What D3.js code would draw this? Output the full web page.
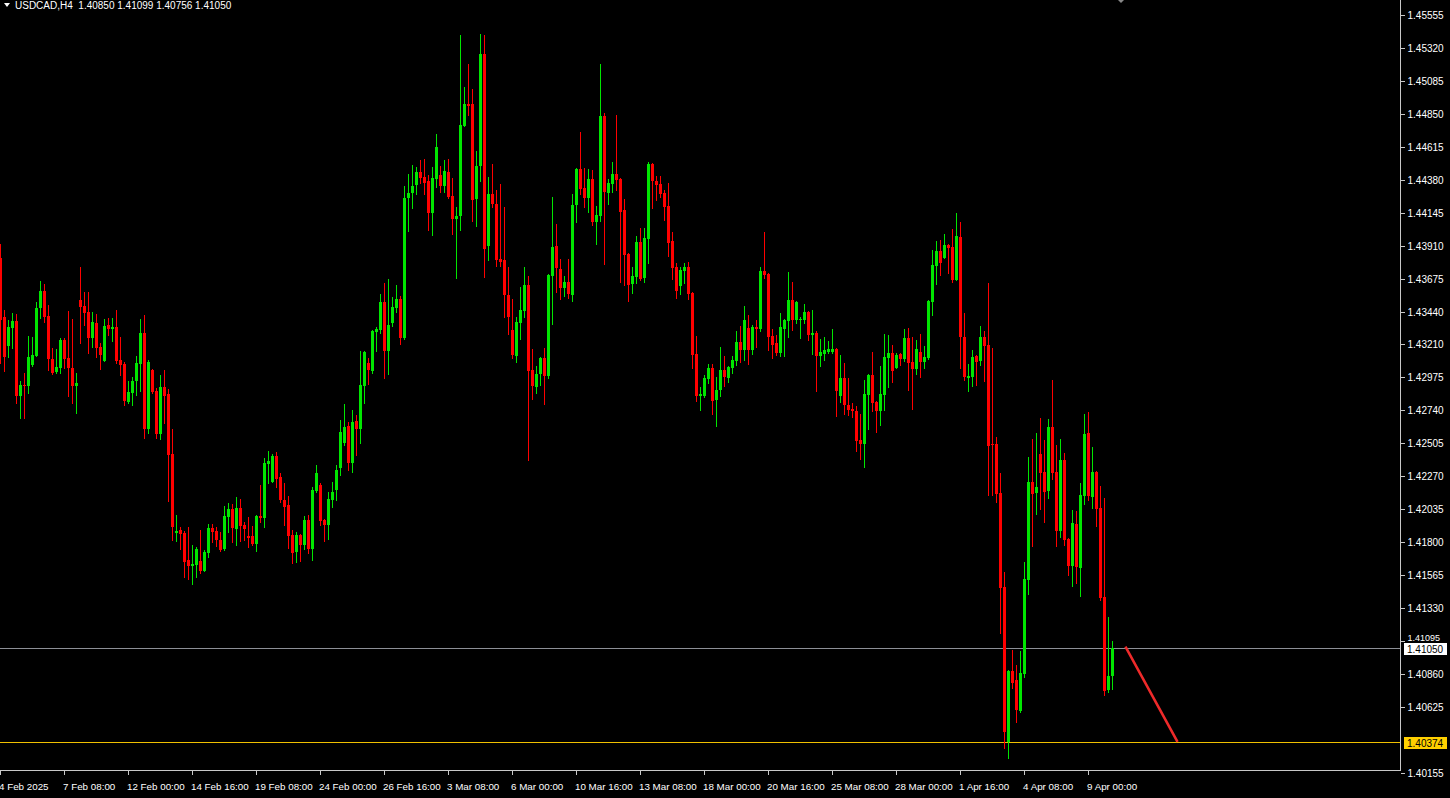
<!DOCTYPE html>
<html><head><meta charset="utf-8">
<script src="https://cdn.jsdelivr.net/npm/d3@7"></script>
<style>html,body{margin:0;padding:0;background:#000;overflow:hidden}</style>
</head><body><svg id="c" width="1450" height="798"></svg>
<script>
const opens=[1.43825,1.43405,1.43198,1.43327,1.43376,1.42842,1.42921,1.42914,1.43063,1.43127,
1.43469,1.43590,1.43412,1.43106,1.43013,1.43042,1.43241,1.43113,1.43042,1.42914,
1.43526,1.43483,1.43441,1.43255,1.43362,1.43191,1.43092,1.43348,1.43320,1.43334,
1.43099,1.43070,1.42800,1.42864,1.42949,1.43070,1.43291,1.42608,1.43028,1.42878,
1.42572,1.42907,1.42857,1.42430,1.41867,1.41888,1.41867,1.41675,1.41632,1.41639,
1.41668,1.41596,1.41725,1.41903,1.41881,1.41817,1.41753,1.41981,1.42038,1.41896,
1.42045,1.41924,1.41846,1.41846,1.41789,1.41988,1.41974,1.42358,1.42230,1.42415,
1.42266,1.42102,1.42066,1.41853,1.41732,1.41853,1.41782,1.41960,1.41753,1.42166,
1.42209,1.41960,1.41924,1.42102,1.42173,1.42330,1.42508,1.42629,1.42365,1.42664,
1.42608,1.42914,1.43077,1.43020,1.43298,1.43312,1.43512,1.43163,1.43362,1.43469,
1.43533,1.43255,1.44252,1.44288,1.44345,1.44437,1.44402,1.44373,1.44145,1.44388,
1.44416,1.44338,1.44437,1.44266,1.44103,1.44124,1.44765,1.44922,1.44922,1.44245,
1.44480,1.45278,1.43910,1.44281,1.44210,1.43818,1.43811,1.43562,1.43312,1.43127,
1.43362,1.43448,1.43633,1.43028,1.42907,1.42999,1.43113,1.42985,1.43697,1.43910,
1.43747,1.43611,1.43654,1.43562,1.44202,1.44459,1.44323,1.44252,1.44388,1.44081,
1.44124,1.44836,1.44288,1.44352,1.44423,1.44388,1.44167,1.43853,1.43640,1.43690,
1.43939,1.43683,1.43960,1.44494,1.44373,1.44352,1.44288,1.44195,1.43946,1.43761,
1.43626,1.43732,1.43761,1.43576,1.43142,1.42842,1.42842,1.42964,1.43042,1.42814,
1.42885,1.43028,1.42971,1.43042,1.43092,1.43227,1.43170,1.43327,1.43170,1.43334,
1.43320,1.43732,1.43711,1.43270,1.43220,1.43149,1.43320,1.43376,1.43526,1.43384,
1.43384,1.43384,1.43441,1.43277,1.43291,1.43127,1.43142,1.43156,1.43156,1.43177,
1.42842,1.42971,1.42778,1.42750,1.42736,1.42529,1.42501,1.42850,1.42992,1.42800,
1.42736,1.42850,1.43113,1.43149,1.43042,1.43142,1.43106,1.43255,1.43085,1.43035,
1.43156,1.43085,1.43113,1.43512,1.43768,1.43875,1.43825,1.43918,1.43903,1.43668,
1.43975,1.43263,1.42971,1.42978,1.43127,1.43092,1.43263,1.43206,1.42501,1.42501,
1.42152,1.41482,1.40379,1.40885,1.40820,1.40600,1.40863,1.41532,1.42230,1.42152,
1.42430,1.42301,1.42166,1.42622,1.42301,1.41881,1.42387,1.41824,1.41632,1.41931,
1.41618,1.42131,1.42579,1.42123,1.42301,1.42045,1.41411,1.40749,1.40850];
const highs=[1.43925,1.43455,1.43384,1.43433,1.43426,1.42949,1.43006,1.43270,1.43263,1.43512,
1.43661,1.43640,1.43490,1.43184,1.43177,1.43255,1.43255,1.43448,1.43391,1.43006,
1.43761,1.43583,1.43583,1.43441,1.43426,1.43220,1.43391,1.43398,1.43398,1.43455,
1.43263,1.43085,1.42949,1.42978,1.43127,1.43391,1.43419,1.43099,1.43035,1.42899,
1.42992,1.43028,1.42892,1.42608,1.41995,1.41910,1.41881,1.41910,1.41782,1.41767,
1.41888,1.41746,1.41931,1.41931,1.41910,1.41874,1.42059,1.42081,1.42074,1.42123,
1.42109,1.41945,1.41981,1.41917,1.41995,1.42209,1.42401,1.42451,1.42430,1.42444,
1.42294,1.42223,1.42130,1.41888,1.41874,1.41860,1.41988,1.41995,1.42195,1.42351,
1.42223,1.41967,1.42159,1.42230,1.42351,1.42672,1.42786,1.42657,1.42743,1.42707,
1.43163,1.43163,1.43113,1.43312,1.43334,1.43569,1.43647,1.43676,1.43547,1.43633,
1.43554,1.44338,1.44423,1.44487,1.44473,1.44523,1.44530,1.44416,1.44473,1.44708,
1.44480,1.44523,1.44530,1.44395,1.44188,1.45413,1.45043,1.45206,1.45028,1.44587,
1.45420,1.45413,1.44402,1.44494,1.44309,1.44352,1.44188,1.43761,1.43533,1.43405,
1.43619,1.43761,1.43697,1.43177,1.43056,1.43120,1.43184,1.43711,1.44259,1.44067,
1.43818,1.43697,1.43818,1.44281,1.44466,1.44722,1.44466,1.44459,1.44452,1.44195,
1.45206,1.44857,1.44388,1.44509,1.44843,1.44395,1.44245,1.43861,1.43761,1.43982,
1.44039,1.44039,1.44509,1.44501,1.44409,1.44409,1.44309,1.44359,1.44010,1.43789,
1.43761,1.43789,1.43797,1.43583,1.43270,1.42907,1.42992,1.43070,1.43070,1.42978,
1.43191,1.43127,1.43056,1.43127,1.43305,1.43341,1.43483,1.43419,1.43348,1.43384,
1.43761,1.44010,1.43718,1.43320,1.43277,1.43433,1.43391,1.43725,1.43654,1.43519,
1.43405,1.43498,1.43448,1.43455,1.43305,1.43248,1.43263,1.43234,1.43320,1.43184,
1.43134,1.43077,1.42971,1.42793,1.42771,1.42714,1.42956,1.42999,1.43156,1.42807,
1.43056,1.43284,1.43277,1.43206,1.43149,1.43149,1.43320,1.43327,1.43263,1.43241,
1.43284,1.43198,1.43526,1.43882,1.43946,1.43953,1.43996,1.43925,1.44031,1.44145,
1.44081,1.43433,1.43070,1.43170,1.43134,1.43341,1.43305,1.43647,1.43184,1.42551,
1.42294,1.41589,1.40892,1.41034,1.40927,1.41027,1.41661,1.42408,1.42536,1.42579,
1.42686,1.42529,1.42679,1.42956,1.42494,1.42536,1.42437,1.41831,1.42031,1.42024,
1.42223,1.42714,1.42729,1.42479,1.42308,1.42202,1.42116,1.41269,1.41099];
const lows=[1.43077,1.43020,1.43120,1.43184,1.42793,1.42686,1.42686,1.42864,1.43056,1.43127,
1.43398,1.43369,1.43028,1.42999,1.43006,1.43006,1.43042,1.42842,1.42793,1.42721,
1.43220,1.43348,1.43149,1.43191,1.43120,1.43035,1.43092,1.43277,1.43234,1.43077,
1.42992,1.42778,1.42793,1.42778,1.42850,1.42878,1.42543,1.42579,1.42864,1.42543,
1.42536,1.42650,1.42095,1.41817,1.41810,1.41753,1.41554,1.41540,1.41504,1.41554,
1.41582,1.41596,1.41696,1.41803,1.41774,1.41739,1.41746,1.41874,1.41803,1.41782,
1.41810,1.41817,1.41767,1.41782,1.41739,1.41945,1.41910,1.42223,1.42230,1.42195,
1.42088,1.41924,1.41760,1.41653,1.41661,1.41668,1.41753,1.41725,1.41675,1.42159,
1.41924,1.41810,1.41824,1.42052,1.42102,1.42280,1.42494,1.42316,1.42301,1.42422,
1.42508,1.42793,1.42928,1.43006,1.43163,1.43291,1.42971,1.42999,1.43341,1.43441,
1.43213,1.43248,1.44017,1.44181,1.44281,1.44359,1.44281,1.44024,1.43989,1.44331,
1.44295,1.44295,1.44252,1.43996,1.43683,1.44024,1.44765,1.44843,1.44088,1.44053,
1.44373,1.43690,1.43811,1.44188,1.43768,1.43768,1.43405,1.43284,1.43113,1.43085,
1.43248,1.43405,1.42387,1.42821,1.42864,1.42921,1.42786,1.42971,1.43355,1.43583,
1.43533,1.43554,1.43540,1.43519,1.44081,1.44281,1.44188,1.44153,1.44060,1.43925,
1.44088,1.43782,1.44210,1.44295,1.44309,1.43654,1.43633,1.43519,1.43576,1.43647,
1.43668,1.43654,1.43789,1.44181,1.44238,1.44259,1.44096,1.43839,1.43676,1.43540,
1.43569,1.43647,1.43533,1.43042,1.42807,1.42743,1.42835,1.42935,1.42714,1.42629,
1.42842,1.42914,1.42942,1.43006,1.43063,1.43085,1.43099,1.43070,1.43142,1.43191,
1.43305,1.43683,1.43170,1.43113,1.43134,1.43127,1.43127,1.43263,1.43312,1.43362,
1.43255,1.43362,1.43241,1.43142,1.42878,1.43056,1.43099,1.43149,1.43149,1.42700,
1.42800,1.42714,1.42707,1.42693,1.42451,1.42394,1.42337,1.42608,1.42736,1.42586,
1.42636,1.42743,1.42907,1.42942,1.43042,1.43063,1.43092,1.42885,1.42750,1.42999,
1.42978,1.43042,1.43106,1.43419,1.43640,1.43704,1.43825,1.43718,1.43654,1.43668,
1.43042,1.42956,1.42878,1.42914,1.42921,1.43063,1.42949,1.42138,1.42138,1.42088,
1.41155,1.40336,1.40265,1.40763,1.40521,1.40593,1.40842,1.41433,1.41774,1.42002,
1.42038,1.41945,1.42116,1.42252,1.41774,1.41839,1.41782,1.41568,1.41490,1.41511,
1.41418,1.42074,1.42102,1.42045,1.41917,1.41390,1.40714,1.40735,1.40756];
const closes=[1.43384,1.43120,1.43334,1.43376,1.42842,1.42921,1.42914,1.43120,1.43134,1.43469,
1.43590,1.43405,1.43106,1.43006,1.43049,1.43241,1.43106,1.43042,1.42914,1.42935,
1.43476,1.43433,1.43255,1.43369,1.43184,1.43134,1.43341,1.43320,1.43334,1.43092,
1.43063,1.42807,1.42871,1.42949,1.43077,1.43291,1.42608,1.43085,1.42871,1.42572,
1.42907,1.42842,1.42422,1.41910,1.41881,1.41860,1.41661,1.41632,1.41646,1.41753,
1.41596,1.41732,1.41903,1.41874,1.41817,1.41746,1.41988,1.42038,1.41903,1.42045,
1.41917,1.41896,1.41831,1.41789,1.41988,1.41974,1.42365,1.42380,1.42415,1.42252,
1.42102,1.42052,1.41846,1.41725,1.41853,1.41782,1.41960,1.41753,1.42173,1.42294,
1.41952,1.41924,1.42109,1.42159,1.42316,1.42586,1.42622,1.42365,1.42657,1.42608,
1.42921,1.43156,1.43028,1.43305,1.43320,1.43512,1.43163,1.43348,1.43476,1.43533,
1.43255,1.44252,1.44288,1.44338,1.44437,1.44395,1.44359,1.44145,1.44395,1.44615,
1.44338,1.44444,1.44259,1.44103,1.44124,1.44772,1.44922,1.44907,1.44238,1.44480,
1.45278,1.43889,1.44281,1.44210,1.43811,1.43797,1.43562,1.43405,1.43134,1.43369,
1.43455,1.43633,1.43020,1.42914,1.42999,1.43113,1.42985,1.43704,1.43903,1.43754,
1.43611,1.43654,1.43569,1.44202,1.44459,1.44316,1.44252,1.44388,1.44081,1.44131,
1.44836,1.44295,1.44359,1.44423,1.44380,1.44153,1.43846,1.43633,1.43697,1.43939,
1.43676,1.43967,1.44494,1.44373,1.44345,1.44281,1.44188,1.43932,1.43754,1.43590,
1.43740,1.43761,1.43569,1.43134,1.42842,1.42857,1.42971,1.43042,1.42807,1.42885,
1.43028,1.42978,1.43049,1.43099,1.43227,1.43170,1.43384,1.43170,1.43334,1.43320,
1.43732,1.43704,1.43263,1.43206,1.43149,1.43334,1.43384,1.43526,1.43384,1.43512,
1.43391,1.43441,1.43277,1.43291,1.43127,1.43156,1.43170,1.43177,1.43177,1.42878,
1.42971,1.42778,1.42743,1.42736,1.42522,1.42501,1.42857,1.42992,1.42793,1.42736,
1.42857,1.43120,1.43149,1.43020,1.43134,1.43106,1.43255,1.43077,1.43035,1.43177,
1.43085,1.43120,1.43519,1.43775,1.43875,1.43789,1.43918,1.43896,1.43668,1.43982,
1.43263,1.42978,1.42985,1.43120,1.43085,1.43263,1.43198,1.42486,1.42494,1.42145,
1.41475,1.40450,1.40885,1.40799,1.40607,1.40870,1.41540,1.42230,1.42145,1.42195,
1.42294,1.42159,1.42622,1.42294,1.41881,1.42387,1.41817,1.41632,1.41938,1.41625,
1.42138,1.42572,1.42131,1.42301,1.42038,1.41404,1.40742,1.40849,1.41050];

const priceTicks=[1.45555,1.45320,1.45085,1.44850,1.44615,1.44380,1.44145,1.43910,1.43675,1.43440,
1.43210,1.42975,1.42740,1.42505,1.42270,1.42035,1.41800,1.41565,1.41330,1.41095,1.40860,1.40625,1.40155];
const timeLabels=["4 Feb 2025","7 Feb 08:00","12 Feb 00:00","14 Feb 16:00","19 Feb 08:00","24 Feb 00:00",
"26 Feb 16:00","3 Mar 08:00","6 Mar 00:00","10 Mar 16:00","13 Mar 08:00","18 Mar 00:00","20 Mar 16:00",
"25 Mar 08:00","28 Mar 00:00","1 Apr 16:00","4 Apr 08:00","9 Apr 00:00"];
const timeLabelBars=[0,16,32,48,64,80,96,112,128,144,160,176,192,208,224,240,256,272];
const headerText="USDCAD,H4  1.40850 1.41099 1.40756 1.41050";
const bidLevel=1.41050;
const supportLevel=1.40374;
const arrowBars=[281.4,294.1];
const arrowPrices=[1.41048,1.40386];

const svg=d3.select("#c");
const plotRight=1400, plotBottom=770;
const x=d3.scaleLinear().domain([0,350]).range([0.5,1400.5]);
const y=d3.scaleLinear().domain([1.40178,1.45662]).range([770,0]);
const UP="#00e600", DN="#ff0000";
const FONT="'Liberation Sans',Arial,sans-serif";
svg.append("rect").attr("width",1450).attr("height",798).attr("fill","#000");

const candles=opens.map((o,i)=>({i,o,h:highs[i],l:lows[i],c:closes[i]}));
const g=svg.append("g").attr("shape-rendering","crispEdges");

// horizontal levels (behind candles)
g.append("line").attr("x1",0).attr("x2",plotRight).attr("y1",Math.round(y(bidLevel))+0.5).attr("y2",Math.round(y(bidLevel))+0.5)
 .attr("stroke","#8c8f96").attr("stroke-width",1);
g.append("line").attr("x1",0).attr("x2",plotRight).attr("y1",Math.round(y(supportLevel))+0.5).attr("y2",Math.round(y(supportLevel))+0.5)
 .attr("stroke","#f0c000").attr("stroke-width",1);

g.selectAll("line.w").data(candles).join("line").attr("class","w")
 .attr("x1",d=>x(d.i)).attr("x2",d=>x(d.i))
 .attr("y1",d=>Math.round(y(d.h))).attr("y2",d=>Math.round(y(d.l))+1)
 .attr("stroke",d=>d.c>=d.o?UP:DN).attr("stroke-width",1);
g.selectAll("rect.b").data(candles).join("rect").attr("class","b")
 .attr("x",d=>x(d.i)-1.5).attr("width",3)
 .attr("y",d=>Math.round(y(Math.max(d.o,d.c))))
 .attr("height",d=>Math.max(1,Math.round(y(Math.min(d.o,d.c)))-Math.round(y(Math.max(d.o,d.c)))))
 .attr("fill",d=>d.c>=d.o?UP:DN);

// red arrow line
svg.append("line").attr("x1",x(arrowBars[0])).attr("y1",y(arrowPrices[0]))
 .attr("x2",x(arrowBars[1])).attr("y2",y(arrowPrices[1]))
 .attr("stroke","#ee2a2a").attr("stroke-width",2.6).attr("stroke-linecap","square");

// frame
g.append("line").attr("x1",plotRight+0.5).attr("x2",plotRight+0.5).attr("y1",0).attr("y2",plotBottom+1).attr("stroke","#c8c8c8");
g.append("line").attr("x1",0).attr("x2",plotRight+1).attr("y1",plotBottom+0.5).attr("y2",plotBottom+0.5).attr("stroke","#c8c8c8");

// right axis
const ay=svg.append("g").attr("transform",`translate(${plotRight+0.5},0)`)
 .call(d3.axisRight(y).tickValues(priceTicks).tickFormat(d3.format(".5f")).tickSize(4).tickPadding(3));
ay.select(".domain").remove();
ay.selectAll("line").attr("stroke","#c8c8c8").attr("shape-rendering","crispEdges");
ay.selectAll("text").attr("fill","#fff").style("font-family",FONT).style("font-size","10px");
// the tick label hidden behind the bid label box
ay.selectAll(".tick").filter(d=>Math.abs(d-1.41095)<1e-6).select("text").attr("dy","-0.1em").style("font-size","9px");

// bottom axis labels
const bx=svg.append("g");
bx.selectAll("line").data(timeLabelBars).join("line")
 .attr("x1",d=>Math.round(x(d))-0.5).attr("x2",d=>Math.round(x(d))-0.5).attr("y1",plotBottom).attr("y2",plotBottom+5)
 .attr("stroke","#c8c8c8").attr("shape-rendering","crispEdges");
bx.selectAll("text").data(timeLabelBars).join("text")
 .attr("x",d=>x(d)-1.5).attr("y",790).attr("fill","#fff")
 .style("font-family",FONT).style("font-size","9.8px")
 .text((d,i)=>timeLabels[i]);

// level labels on axis
function levelLabel(val,fill){
  const yy=Math.round(y(val));
  svg.append("rect").attr("x",plotRight+4).attr("y",yy-5).attr("width",43).attr("height",12).attr("fill",fill);
  svg.append("text").attr("x",plotRight+7).attr("y",yy+5).attr("fill","#000")
   .style("font-family",FONT).style("font-size","10px").text(d3.format(".5f")(val));
}
levelLabel(bidLevel,"#ffffff");
levelLabel(supportLevel,"#ffd000");

// header
svg.append("path").attr("d","M4,3 L10,3 L7,7 Z").attr("fill","#fff");
svg.append("text").attr("x",15).attr("y",8.5).attr("fill","#fff")
 .style("font-family",FONT).style("font-size","10px")
 .style("white-space","pre").text(headerText);
// chart-shift marker
svg.append("path").attr("d","M1118,0 L1124,0 L1121,3 Z").attr("fill","#888");
</script></body></html>
